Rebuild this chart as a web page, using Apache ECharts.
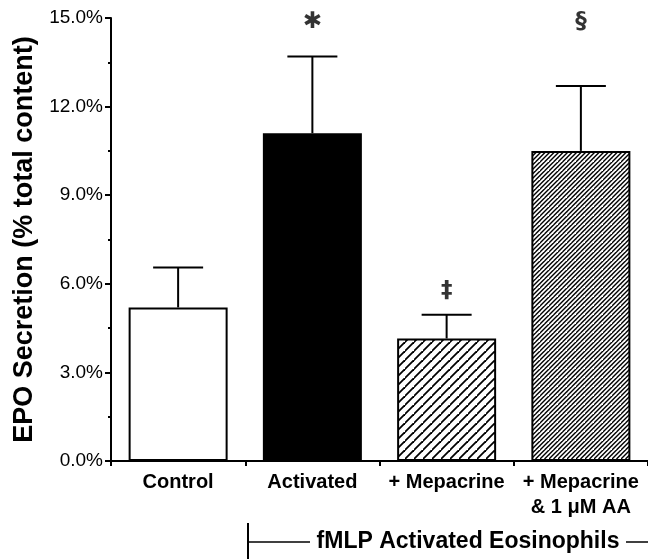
<!DOCTYPE html>
<html>
<head>
<meta charset="utf-8">
<script src="https://cdn.jsdelivr.net/npm/echarts@6/dist/echarts.min.js"></script>
<style>
  html, body { margin: 0; padding: 0; background: #fff; }
  #main { width: 648px; height: 559px; }
</style>
</head>
<body>
<div id="main"></div>
<script>
// data
const categories = ["Control", "Activated", "+ Mepacrine", "+ Mepacrine\n& 1 μM AA"];
const secretion = [5.2, 11.1, 4.15, 10.5];      // mean, %
const errorTop = [6.55, 13.7, 4.95, 12.7];      // mean + SE, %
const markers = ["", "✱", "‡", "§"];
const markerY = [null, 14.85, 5.75, 14.85];
const yTicks = [0, 3, 6, 9, 12, 15];

// diagonal hatch fill, lines going "/"
function hatch(size, offsets, width) {
  let c = document.createElement("canvas");
  c.width = size;
  c.height = size;
  let ctx = c.getContext("2d");
  ctx.fillStyle = "#fff";
  ctx.fillRect(0, 0, size, size);
  ctx.strokeStyle = "#000";
  ctx.lineWidth = width;
  offsets.forEach(function (o) {
    [-size, 0, size].forEach(function (k) {
      ctx.beginPath();
      ctx.moveTo(o + k - size, size);
      ctx.lineTo(o + k + size, -size);
      ctx.stroke();
    });
  });
  return c;
}

const fills = [
  "#fff",
  "#000",
  { image: hatch(9, [0], 1.8), repeat: "repeat" },
  { image: hatch(9, [0, 4.5], 1.4), repeat: "repeat" }
];

let chart = echarts.init(document.getElementById("main"));

let option = {
  animation: false,
  grid: { left: 111, right: -3, top: 18, bottom: 98, containLabel: false },
  xAxis: {
    type: "category",
    data: categories,
    axisLine: { lineStyle: { color: "#000", width: 2 } },
    axisTick: { show: true, length: 5, lineStyle: { color: "#000", width: 2 } },
    axisLabel: {
      color: "#000",
      fontFamily: "Liberation Sans",
      fontWeight: "bold",
      fontSize: 20,
      lineHeight: 25,
      margin: 9,
      interval: 0
    }
  },
  yAxis: {
    type: "value",
    min: yTicks[0],
    max: yTicks[yTicks.length - 1],
    interval: 3,
    name: "EPO Secretion (% total content)",
    nameLocation: "middle",
    nameRotate: 90,
    nameGap: 73,
    nameTextStyle: {
      color: "#000",
      fontFamily: "Liberation Sans",
      fontWeight: "bold",
      fontSize: 27
    },
    axisLine: { show: true, lineStyle: { color: "#000", width: 2 } },
    axisTick: { show: true, length: 6, lineStyle: { color: "#000", width: 2 } },
    minorTick: { show: true, splitNumber: 2, length: 3, lineStyle: { color: "#000", width: 2 } },
    splitLine: { show: false },
    axisLabel: {
      color: "#000",
      fontFamily: "Liberation Sans",
      fontSize: 19,
      margin: 8,
      formatter: function (v) { return v.toFixed(1) + "%"; }
    }
  },
  series: [
    {
      type: "bar",
      barWidth: 99,
      data: secretion.map(function (v, i) {
        return {
          value: v,
          itemStyle: { color: fills[i], borderColor: "#000", borderWidth: 2 }
        };
      })
    },
    {
      // error bars (upper only)
      type: "custom",
      data: secretion.map(function (v, i) { return [i, v, errorTop[i]]; }),
      renderItem: function (params, api) {
        let base = api.coord([api.value(0), api.value(1)]);
        let top = api.coord([api.value(0), api.value(2)]);
        let style = { stroke: "#000", lineWidth: 2 };
        return {
          type: "group",
          children: [
            { type: "line", shape: { x1: base[0], y1: base[1], x2: top[0], y2: top[1] }, style: style },
            { type: "line", shape: { x1: top[0] - 25, y1: top[1], x2: top[0] + 25, y2: top[1] }, style: style }
          ]
        };
      },
      z: 3
    },
    {
      // significance marks
      type: "scatter",
      symbolSize: 0,
      data: markerY.map(function (v, i) { return [i, v]; }),
      label: {
        show: true,
        position: "inside",
        color: "#000",
        fontFamily: "DejaVu Sans",
        fontWeight: "bold",
        fontSize: 23,
        formatter: function (p) { return markers[p.dataIndex]; }
      }
    }
  ],
  graphic: [
    // bracket under the activated groups
    { type: "line", shape: { x1: 248, y1: 523, x2: 248, y2: 559 }, style: { stroke: "#000", lineWidth: 2 } },
    { type: "line", shape: { x1: 248, y1: 542, x2: 310, y2: 542 }, style: { stroke: "#000", lineWidth: 1.5 } },
    {
      type: "text",
      x: 468,
      y: 542,
      style: {
        text: "fMLP Activated Eosinophils",
        fill: "#000",
        font: "bold 23px 'Liberation Sans'",
        align: "center",
        verticalAlign: "middle"
      }
    },
    { type: "line", shape: { x1: 626, y1: 542, x2: 648, y2: 542 }, style: { stroke: "#000", lineWidth: 1.5 } }
  ]
};

chart.setOption(option);
</script>
</body>
</html>
